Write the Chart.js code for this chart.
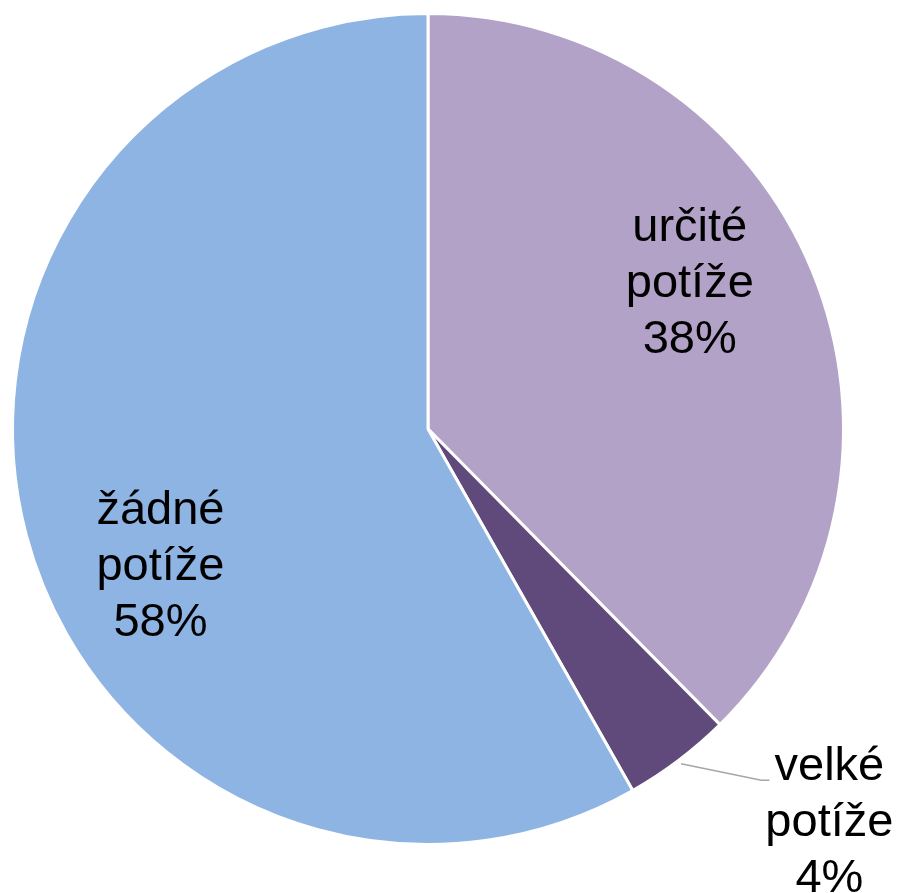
<!DOCTYPE html>
<html>
<head>
<meta charset="utf-8">
<script src="https://cdn.jsdelivr.net/npm/chart.js@4/dist/chart.umd.min.js"></script>
<style>
  html, body { margin: 0; padding: 0; background: #fff; }
  #wrap { width: 899px; height: 893px; }
</style>
</head>
<body>
<div id="wrap"><canvas id="pieChart" width="899" height="893"></canvas></div>
<script>
// data
const categories = ["určité potíže", "velké potíže", "žádné potíže"];
const shares = [37.6, 4.2, 58.2];
const colors = ["#B3A2C7", "#604A7B", "#8EB4E3"];

// label block placement, as fraction of radius from the pie centre
const labelSpots = [
  { dx: 0.630, dy: -0.348 },
  { dx: 0.966, dy: 0.949, leader: true },
  { dx: -0.644, dy: 0.333 }
];

const pieLabels = {
  id: "pieLabels",
  afterDatasetsDraw(chart) {
    const ctx = chart.ctx;
    const meta = chart.getDatasetMeta(0);
    const total = shares.reduce((a, b) => a + b, 0);
    ctx.save();
    ctx.font = "47px 'Liberation Sans', Arial, sans-serif";
    ctx.fillStyle = "#000";
    ctx.textAlign = "center";
    ctx.textBaseline = "middle";
    meta.data.forEach((arc, i) => {
      const r = arc.outerRadius;
      const spot = labelSpots[i];
      const x = arc.x + spot.dx * r;
      const y = arc.y + spot.dy * r;
      const words = categories[i].split(" ");
      const lines = [words[0], words[1], Math.round(shares[i] / total * 100) + "%"];
      const lh = 56;
      lines.forEach((t, k) => ctx.fillText(t, x, y + (k - 1) * lh));
      if (spot.leader) {
        const mid = (arc.startAngle + arc.endAngle) / 2;
        const sx = arc.x + Math.cos(mid) * r * 1.01;
        const sy = arc.y + Math.sin(mid) * r * 1.01;
        const ey = y - lh + 13;
        ctx.strokeStyle = "#A6A6A6";
        ctx.lineWidth = 1.5;
        ctx.beginPath();
        ctx.moveTo(sx, sy);
        ctx.lineTo(x - 68, ey);
        ctx.lineTo(x - 60, ey);
        ctx.stroke();
      }
    });
    ctx.restore();
  }
};

new Chart(document.getElementById("pieChart").getContext("2d"), {
  type: "pie",
  data: {
    labels: categories,
    datasets: [
      {
        data: shares,
        backgroundColor: colors,
        borderColor: "#ffffff",
        borderWidth: 3
      }
    ]
  },
  options: {
    responsive: false,
    animation: false,
    layout: { padding: { left: 11, right: 54, top: 12, bottom: 47 } },
    plugins: {
      legend: { display: false },
      tooltip: { enabled: false }
    }
  },
  plugins: [pieLabels]
});
</script>
</body>
</html>
